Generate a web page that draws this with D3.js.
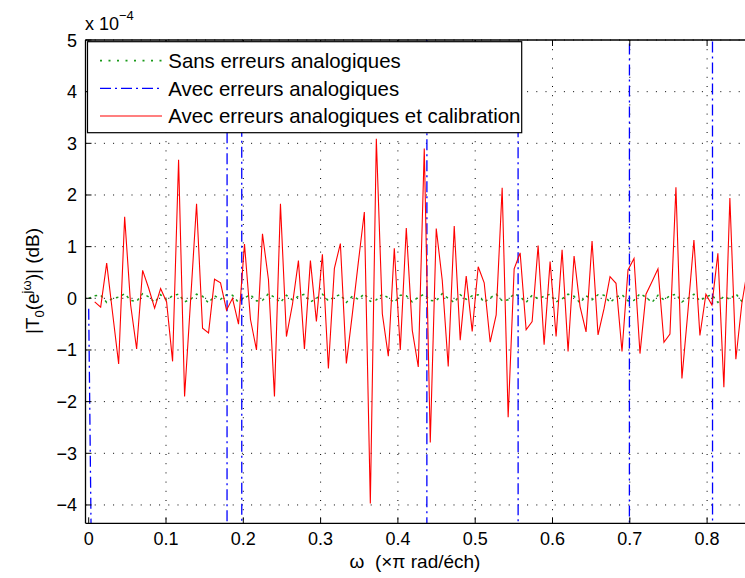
<!DOCTYPE html>
<html><head><meta charset="utf-8">
<script src="https://cdn.jsdelivr.net/npm/d3@7"></script>
<style>
body{margin:0;background:#fff}
svg{display:block}
text{font-family:"Liberation Sans",Arial,Helvetica,sans-serif;fill:#000}
</style>
</head><body>
<svg id="chart" width="745" height="578"></svg>
<script>
// ---------- data (values in units of 1e-4) ----------
const OMEGA_STEP = 1 / 129;              // frequency step (x pi rad/ech)
// "Avec erreurs analogiques et calibration" : samples k = 1 .. 110
const redValues = [
  -0.07,-0.17,0.68,-0.30,-1.27,1.58,-0.13,-0.98,0.54,0.20,
  -0.19,0.19,-0.07,-1.22,2.68,-1.90,-0.05,1.83,-0.58,-0.67,
  0.37,0.30,-0.23,0.00,-0.50,1.05,-0.41,-1.00,1.25,0.36,
  -1.90,1.83,-0.74,-0.12,0.73,-0.98,0.73,-0.45,0.85,-1.36,
  0.58,1.06,-1.26,-0.30,0.70,1.67,-3.97,3.09,-0.30,-1.12,
  0.97,-1.00,1.36,-0.62,-1.33,2.90,-2.79,1.35,0.35,-1.32,
  1.40,-0.81,0.43,-0.64,0.61,0.30,-0.85,-0.32,2.14,-2.30,
  0.57,0.88,-0.61,-0.45,1.02,-0.90,0.71,-0.74,0.94,-1.03,
  0.82,-0.16,-0.65,1.11,-0.71,-0.20,0.42,0.29,-1.03,0.55,
  0.77,-1.07,0.08,0.32,0.57,-0.85,-0.69,2.15,-1.55,-0.25,
  1.13,-0.72,0.08,-0.13,0.87,-1.72,1.94,-1.18,-0.10,0.60
];
// "Sans erreurs analogiques" : samples k = 0 .. 110
const greenValues = [
  0.00,0.05,0.06,-0.08,0.00,0.02,0.09,-0.04,-0.06,0.09,0.03,
  -0.08,0.07,-0.03,0.05,0.08,-0.07,-0.02,0.08,0.04,-0.09,
  0.05,-0.02,0.07,0.06,-0.08,0.01,0.07,-0.05,-0.04,0.09,
  0.02,-0.08,0.06,-0.03,0.04,0.08,-0.07,0.00,0.08,-0.05,
  0.03,0.07,-0.08,0.04,-0.02,0.09,-0.06,-0.03,0.08,0.01,
  -0.08,0.06,0.05,-0.07,0.02,0.08,-0.04,-0.05,0.09,0.00,
  -0.08,0.07,-0.02,0.05,0.07,-0.08,0.01,0.08,-0.05,-0.03,
  0.09,0.03,-0.08,0.06,-0.01,0.04,0.08,-0.07,-0.01,0.08,
  0.04,-0.09,0.05,-0.03,0.07,0.06,-0.08,0.02,0.07,-0.05,
  -0.04,0.09,0.02,-0.08,0.06,-0.03,0.05,0.08,-0.07,0.00,
  0.08,-0.05,0.03,0.07,-0.08,0.04,-0.02,0.09,-0.06,-0.02
];
// "Avec erreurs analogiques" : huge excursions, only the crossings are visible
const blueOmega  = [0, 0.0078, 0.176, 0.182, 0.196, 0.200, 0.435, 0.440, 0.553, 0.558, 0.697, 0.702, 0.804, 0.810, 0.860];
const blueValues = [-0.2, -11, -400, 400, 400, -400, -400, 400, 400, -400, -400, 400, 400, -400, -400];

const xTicks = [0, 0.1, 0.2, 0.3, 0.4, 0.5, 0.6, 0.7, 0.8];
const xTickLabels = ["0", "0.1", "0.2", "0.3", "0.4", "0.5", "0.6", "0.7", "0.8"];
const yTicks = [-4, -3, -2, -1, 0, 1, 2, 3, 4, 5];
const yTickLabels = ["\u22124", "\u22123", "\u22122", "\u22121", "0", "1", "2", "3", "4", "5"];
const legendLabels = ["Sans erreurs analogiques", "Avec erreurs analogiques", "Avec erreurs analogiques et calibration"];
const seriesColors = ["#008000", "#0000ff", "#ff0000"];

// ---------- layout ----------
const svg = d3.select("#chart");
const box = {left: 85.5, top: 40, right: 900, bottom: 523.3};
const x = d3.scaleLinear().domain([0, 1]).range([88.7, 861.7]);
const y = d3.scaleLinear().domain([-4.355, 5]).range([523.3, 40]);

svg.append("defs").append("clipPath").attr("id", "clip")
  .append("rect").attr("x", box.left).attr("y", box.top)
  .attr("width", box.right - box.left).attr("height", box.bottom - box.top);

// grid
const grid = svg.append("g");
grid.selectAll(".gx").data(xTicks.filter(d => d > 0)).join("line")
  .attr("x1", d => x(d)).attr("x2", d => x(d))
  .attr("y1", box.top).attr("y2", box.bottom)
  .attr("stroke", "#000").attr("stroke-width", 1).attr("stroke-dasharray", "1,8.2");
grid.selectAll(".gy").data(yTicks).join("line")
  .attr("x1", box.left).attr("x2", box.right)
  .attr("y1", d => y(d)).attr("y2", d => y(d))
  .attr("stroke", "#000").attr("stroke-width", 1).attr("stroke-dasharray", "1,8.2");

const plot = svg.append("g").attr("clip-path", "url(#clip)");
const line = d3.line().x(d => x(d[0])).y(d => y(d[1]));

// green dotted
plot.append("path")
  .datum(greenValues.map((v, i) => [i * OMEGA_STEP, v]))
  .attr("d", line).attr("fill", "none")
  .attr("stroke", "#1a9a1a").attr("stroke-width", 1.5)
  .attr("stroke-dasharray", "2.5,4");
// blue dash-dot
plot.append("path")
  .datum(blueOmega.map((w, i) => [w, blueValues[i]]))
  .attr("d", line).attr("fill", "none")
  .attr("stroke", seriesColors[1]).attr("stroke-width", 1.3)
  .attr("stroke-dasharray", "11,4,2,4");
// red solid
plot.append("path")
  .datum(redValues.map((v, i) => [(i + 1) * OMEGA_STEP, v]))
  .attr("d", line).attr("fill", "none")
  .attr("stroke", seriesColors[2]).attr("stroke-width", 1.1);

// axes box
svg.append("line").attr("x1", box.left).attr("x2", 745).attr("y1", box.top).attr("y2", box.top).attr("stroke", "#000").attr("stroke-width", 1.3);
svg.append("line").attr("x1", box.left).attr("x2", 745).attr("y1", box.bottom).attr("y2", box.bottom).attr("stroke", "#000").attr("stroke-width", 1.3);
svg.append("line").attr("x1", box.left).attr("x2", box.left).attr("y1", box.top).attr("y2", box.bottom).attr("stroke", "#000").attr("stroke-width", 1.3);

// ticks (inside)
const tk = svg.append("g").attr("stroke", "#000").attr("stroke-width", 1);
tk.selectAll(".tb").data(xTicks).join("line")
  .attr("x1", d => x(d)).attr("x2", d => x(d)).attr("y1", box.bottom).attr("y2", box.bottom - 6);
tk.selectAll(".tt").data(xTicks).join("line")
  .attr("x1", d => x(d)).attr("x2", d => x(d)).attr("y1", box.top).attr("y2", box.top + 6);
tk.selectAll(".tl").data(yTicks).join("line")
  .attr("x1", box.left).attr("x2", box.left + 6).attr("y1", d => y(d)).attr("y2", d => y(d));

// tick labels
svg.append("g").selectAll("text").data(xTicks).join("text")
  .attr("x", d => x(d)).attr("y", box.bottom + 22)
  .attr("text-anchor", "middle").attr("font-size", 18)
  .text((d, i) => xTickLabels[i]);
svg.append("g").selectAll("text").data(yTicks).join("text")
  .attr("x", 77).attr("y", d => y(d) + 6.5)
  .attr("text-anchor", "end").attr("font-size", 18)
  .text((d, i) => yTickLabels[i]);

// exponent label
const ex = svg.append("text").attr("x", 85).attr("y", 30).attr("font-size", 18);
ex.append("tspan").text("x 10");
ex.append("tspan").attr("dy", -10).attr("font-size", 13).text("\u22124");

// axis labels
svg.append("text").attr("x", 415).attr("y", 568).attr("text-anchor", "middle").attr("font-size", 19)
  .text("\u03c9\u00a0 (\u00d7\u03c0 rad/\u00e9ch)");

const yl = svg.append("text").attr("transform", "translate(39,281) rotate(-90)")
  .attr("text-anchor", "middle").attr("font-size", 19);
yl.append("tspan").text("|T");
yl.append("tspan").attr("dy", 5).attr("font-size", 13).text("0");
yl.append("tspan").attr("dy", -5).text("(e");
yl.append("tspan").attr("dy", -8).attr("font-size", 13).text("j\u03c9");
yl.append("tspan").attr("dy", 8).text(")| (dB)");

// legend
const lg = svg.append("g");
lg.append("rect").attr("x", 87.5).attr("y", 41.7).attr("width", 434.2).attr("height", 91)
  .attr("fill", "#fff").attr("stroke", "#000").attr("stroke-width", 1.2);
const rowY = [60.7, 88.3, 116];
const dashes = ["2,6.5", "11,4,2,4", null];
const lgColors = ["#1a9a1a", seriesColors[1], seriesColors[2]];
legendLabels.forEach((lab, i) => {
  const l = lg.append("line").attr("x1", 100).attr("x2", 162).attr("y1", rowY[i]).attr("y2", rowY[i])
    .attr("stroke", lgColors[i]).attr("stroke-width", i === 0 ? 1.8 : 1.2);
  if (dashes[i]) l.attr("stroke-dasharray", dashes[i]);
  lg.append("text").attr("x", 168.3).attr("y", rowY[i] + 7.3).attr("font-size", 20.4).text(lab);
});
</script>
</body></html>
